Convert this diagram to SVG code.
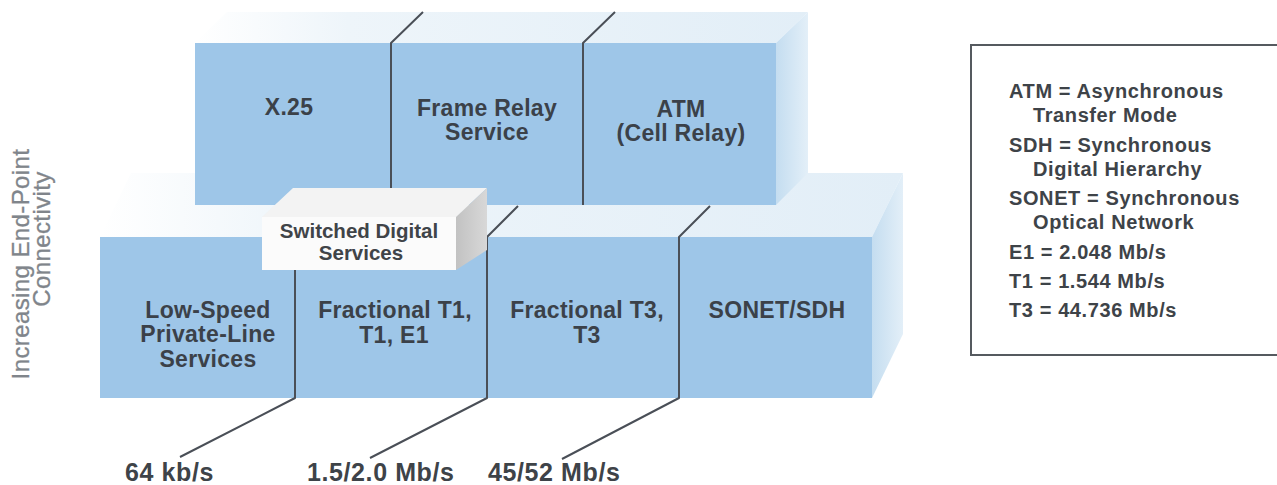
<svg xmlns="http://www.w3.org/2000/svg" width="1277" height="485" viewBox="0 0 1277 485">
<defs>
<linearGradient id="gTop" x1="0" y1="0" x2="1" y2="0">
<stop offset="0" stop-color="#ffffff"/>
<stop offset="0.25" stop-color="#eef5fa"/>
<stop offset="1" stop-color="#e2eef7"/>
</linearGradient>
<linearGradient id="gSide" x1="0" y1="0" x2="1" y2="0">
<stop offset="0" stop-color="#c4ddf0"/>
<stop offset="1" stop-color="#e3eff8"/>
</linearGradient>
<linearGradient id="gBoxSide" x1="0" y1="0" x2="1" y2="0">
<stop offset="0" stop-color="#c2c2c2"/>
<stop offset="1" stop-color="#d8d8d8"/>
</linearGradient>
<style>
.front{fill:#9ec6e8}
.div{stroke:#4a4f57;stroke-width:2;fill:none;stroke-linejoin:round}
.lbl{font-family:"Liberation Sans",Arial,sans-serif;font-weight:bold;font-size:23px;fill:#3b4149;text-anchor:middle;letter-spacing:0.3px}
.box{font-family:"Liberation Sans",Arial,sans-serif;font-weight:bold;font-size:20.5px;fill:#404448;text-anchor:middle}
.leg{font-family:"Liberation Sans",Arial,sans-serif;font-weight:bold;font-size:20px;fill:#3e4348;letter-spacing:0.6px}
.rate{font-family:"Liberation Sans",Arial,sans-serif;font-weight:bold;font-size:25px;fill:#3e4348;letter-spacing:0.6px}
.axis{font-family:"Liberation Sans",Arial,sans-serif;font-size:24px;fill:#80858b;text-anchor:middle;letter-spacing:0.4px;stroke:#80858b;stroke-width:0.3px}
</style>
</defs>
<rect width="1277" height="485" fill="#ffffff"/>

<g id="lower-block-faces">
<polygon points="100,237 131,173 903,173 872,237" fill="url(#gTop)"/>
<polygon points="872,237 903,173 903,334 872,398" fill="url(#gSide)"/>
</g>
<g id="upper-block-faces">
<polygon points="195,43 227,12 808,12 776,43" fill="url(#gTop)"/>
<polygon points="776,43 808,12 808,173 776,205" fill="url(#gSide)"/>
</g>

<g id="x25"><rect class="front" x="195" y="43" width="196" height="162"/><text class="lbl" x="289" y="115">X.25</text></g>
<g id="frame-relay"><rect class="front" x="391" y="43" width="192" height="162"/><text class="lbl" x="487" y="116">Frame Relay</text><text class="lbl" x="487" y="140">Service</text></g>
<g id="atm"><rect class="front" x="583" y="43" width="193" height="162"/><text class="lbl" x="681" y="117">ATM</text><text class="lbl" x="681" y="141">(Cell Relay)</text></g>

<g id="low-speed"><rect class="front" x="100" y="237" width="195" height="161"/><text class="lbl" x="208" y="318">Low-Speed</text><text class="lbl" x="208" y="342">Private-Line</text><text class="lbl" x="208" y="367">Services</text></g>
<g id="fractional-t1"><rect class="front" x="295" y="237" width="192" height="161"/><text class="lbl" x="395" y="318">Fractional T1,</text><text class="lbl" x="394" y="343">T1, E1</text></g>
<g id="fractional-t3"><rect class="front" x="487" y="237" width="192" height="161"/><text class="lbl" x="587" y="318">Fractional T3,</text><text class="lbl" x="587" y="343">T3</text></g>
<g id="sonet-sdh"><rect class="front" x="679" y="237" width="193" height="161"/><text class="lbl" x="777" y="318">SONET/SDH</text></g>

<g id="connectors">
<polyline class="div" points="423,12 391,43 391,190"/>
<polyline class="div" points="615,12 583,43 583,205"/>
<polyline class="div" points="295,268 295,398 180,457"/>
<polyline class="div" points="518,206 487,237 487,398 370,458"/>
<polyline class="div" points="710,206 679,237 679,398 562,459"/>
</g>

<g id="switched-digital">
<polygon points="262,217 293,188 487,188 456,217" fill="#f3f3f3"/>
<polygon points="456,217 487,188 487,250 456,270" fill="url(#gBoxSide)"/>
<rect x="262" y="217" width="194" height="53" fill="#fbfbfb"/>
<text class="box" x="359" y="238">Switched Digital</text>
<text class="box" x="361" y="260">Services</text>
</g>

<g id="axis-label">
<text class="axis" transform="translate(29,264) rotate(-90)">Increasing End-Point</text>
<text class="axis" transform="translate(50,239) rotate(-90)">Connectivity</text>
</g>

<g id="rate-labels">
<text class="rate" x="125" y="481">64 kb/s</text>
<text class="rate" x="307" y="481">1.5/2.0 Mb/s</text>
<text class="rate" x="488" y="481">45/52 Mb/s</text>
</g>

<g id="legend">
<path d="M1278,45 H971 V355 H1278" fill="none" stroke="#555a5f" stroke-width="2"/>
<text class="leg" x="1009" y="98">ATM = Asynchronous</text>
<text class="leg" x="1033" y="122">Transfer Mode</text>
<text class="leg" x="1009" y="152">SDH = Synchronous</text>
<text class="leg" x="1033" y="176">Digital Hierarchy</text>
<text class="leg" x="1009" y="205">SONET = Synchronous</text>
<text class="leg" x="1033" y="229">Optical Network</text>
<text class="leg" x="1009" y="259">E1 = 2.048 Mb/s</text>
<text class="leg" x="1009" y="288">T1 = 1.544 Mb/s</text>
<text class="leg" x="1009" y="317">T3 = 44.736 Mb/s</text>
</g>
</svg>
